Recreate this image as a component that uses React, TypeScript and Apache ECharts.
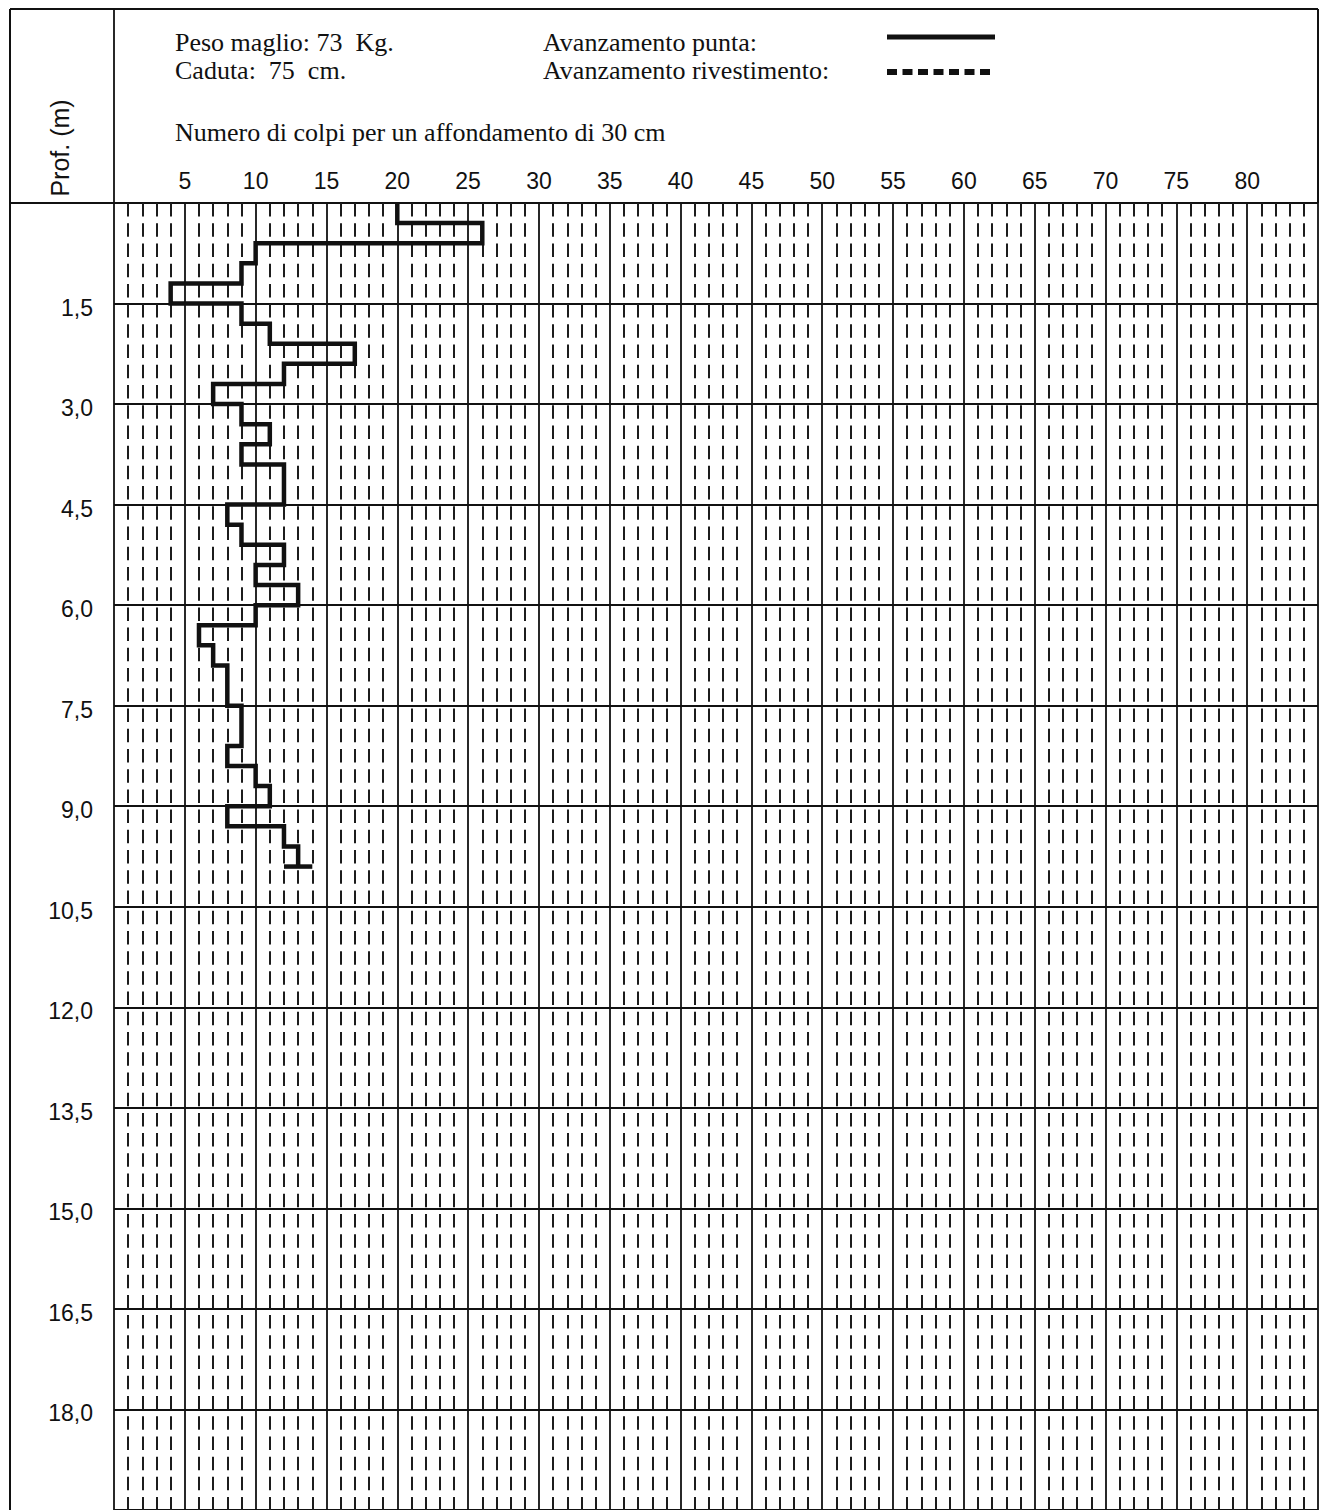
import React, { useEffect, useRef } from "react";
import * as echarts from "echarts";

// ---- Data ----
// Blow counts N per 30 cm penetration, one per 0.3 m depth interval
const DEPTH_TOP = [
  0.0, 0.3, 0.6, 0.9, 1.2, 1.5, 1.8, 2.1, 2.4, 2.7, 3.0, 3.3, 3.6, 3.9, 4.2, 4.5, 4.8,
  5.1, 5.4, 5.7, 6.0, 6.3, 6.6, 6.9, 7.2, 7.5, 7.8, 8.1, 8.4, 8.7, 9.0, 9.3, 9.6,
];
const BLOWS = [
  20, 26, 10, 9, 4, 9, 11, 17, 12, 7, 9, 11, 9, 12, 12, 8, 9, 12, 10, 13, 10, 6, 7, 8,
  8, 9, 9, 8, 10, 11, 8, 12, 13,
];
const STEP = 0.3;
// closing bar at the end of the test
const END_CAP_X = [12, 14];
const END_CAP_DEPTH = 9.9;

const X_LABELS = [5, 10, 15, 20, 25, 30, 35, 40, 45, 50, 55, 60, 65, 70, 75, 80];
const Y_LABELS = [1.5, 3.0, 4.5, 6.0, 7.5, 9.0, 10.5, 12.0, 13.5, 15.0, 16.5, 18.0];

const X_MIN = 0;
const X_MAX = 85;
const Y_MIN = 0;
const Y_MAX = 19.5;

// ---- Layout ----
const W = 1321;
const H = 1510;
const GRID_LEFT = 114;
const GRID_RIGHT_X = 1318;
const GRID_TOP = 203;
const PX_PER_M = 67.4;
const GRID_H = (Y_MAX - Y_MIN) * PX_PER_M;
const CELL = STEP * PX_PER_M;
const INK = "#111111";
const SERIF = "'Liberation Serif', 'Times New Roman', serif";
const SANS = "'Liberation Sans', Arial, sans-serif";
const HEAD_FONT = `26px ${SERIF}`;

export default function App() {
  const ref = useRef<HTMLDivElement>(null);

  useEffect(() => {
    if (!ref.current) return;
    const chart = echarts.init(ref.current, undefined, { renderer: "svg" });

    const stepData: number[][] = [];
    BLOWS.forEach((n, i) => {
      stepData.push([n, DEPTH_TOP[i]]);
      stepData.push([n, +(DEPTH_TOP[i] + STEP).toFixed(2)]);
    });
    const capData = END_CAP_X.map((x) => [x, END_CAP_DEPTH]);

    const solid = { color: INK, width: 1.8 };

    const graphic: any[] = [
      // outer frame & header box
      { type: "line", shape: { x1: 10, y1: 9, x2: GRID_RIGHT_X, y2: 9 }, style: { stroke: INK, lineWidth: 2 } },
      { type: "line", shape: { x1: 10, y1: 9, x2: 10, y2: H }, style: { stroke: INK, lineWidth: 2 } },
      { type: "line", shape: { x1: GRID_LEFT, y1: 9, x2: GRID_LEFT, y2: GRID_TOP }, style: { stroke: INK, lineWidth: 1.8 } },
      { type: "line", shape: { x1: GRID_RIGHT_X, y1: 9, x2: GRID_RIGHT_X, y2: GRID_TOP }, style: { stroke: INK, lineWidth: 2 } },
      { type: "line", shape: { x1: 10, y1: GRID_TOP, x2: GRID_RIGHT_X, y2: GRID_TOP }, style: { stroke: INK, lineWidth: 2 } },
      // header texts
      { type: "text", x: 175, y: 42, style: { text: "Peso maglio: 73  Kg.", font: HEAD_FONT, fill: INK, verticalAlign: "middle" } },
      { type: "text", x: 175, y: 70, style: { text: "Caduta:  75  cm.", font: HEAD_FONT, fill: INK, verticalAlign: "middle" } },
      { type: "text", x: 543, y: 42, style: { text: "Avanzamento punta:", font: HEAD_FONT, fill: INK, verticalAlign: "middle" } },
      { type: "text", x: 543, y: 70, style: { text: "Avanzamento rivestimento:", font: HEAD_FONT, fill: INK, verticalAlign: "middle" } },
      { type: "text", x: 175, y: 132, style: { text: "Numero di colpi per un affondamento di 30 cm", font: HEAD_FONT, fill: INK, verticalAlign: "middle" } },
      // legend samples
      { type: "line", shape: { x1: 887, y1: 37, x2: 995, y2: 37 }, style: { stroke: INK, lineWidth: 5 } },
      { type: "line", shape: { x1: 887, y1: 72, x2: 995, y2: 72 }, style: { stroke: INK, lineWidth: 6, lineDash: [10, 5.5] } },
      // vertical axis title
      {
        type: "text",
        x: 60,
        y: 148,
        rotation: Math.PI / 2,
        style: { text: "Prof. (m)", font: `25px ${SANS}`, fill: INK, align: "center", verticalAlign: "middle" },
      },
    ];

    chart.setOption({
      animation: false,
      backgroundColor: "#ffffff",
      graphic,
      grid: {
        left: GRID_LEFT,
        right: W - GRID_RIGHT_X,
        top: GRID_TOP,
        height: GRID_H,
        containLabel: false,
      },
      xAxis: {
        type: "value",
        position: "top",
        min: X_MIN,
        max: X_MAX,
        interval: 5,
        axisLine: { show: false },
        axisTick: { show: false },
        axisLabel: {
          show: true,
          margin: 11,
          color: INK,
          fontFamily: SANS,
          fontSize: 23,
          formatter: (v: number) => (X_LABELS.indexOf(v) >= 0 ? String(v) : ""),
        },
        splitLine: { show: true, lineStyle: solid },
        minorTick: { show: false, splitNumber: 5 },
        minorSplitLine: {
          show: true,
          lineStyle: { color: "#1c1c1c", width: 2, type: [13.5, CELL - 13.5] },
        },
      },
      yAxis: {
        type: "value",
        inverse: true,
        min: Y_MIN,
        max: Y_MAX,
        interval: 1.5,
        axisLine: { show: false },
        axisTick: { show: false },
        axisLabel: {
          show: true,
          margin: 21,
          color: INK,
          fontFamily: SANS,
          fontSize: 23,
          formatter: (v: number) => {
            const hit = Y_LABELS.find((l) => Math.abs(l - v) < 1e-6);
            return hit === undefined ? "" : "{v|" + hit.toFixed(1).replace(".", ",") + "}";
          },
          rich: {
            v: { fontFamily: SANS, fontSize: 23, color: INK, padding: [8, 0, 0, 0] },
          },
        },
        splitLine: { show: true, lineStyle: solid },
      },
      series: [
        {
          type: "line",
          name: "Avanzamento punta",
          data: stepData,
          symbol: "none",
          z: 10,
          lineStyle: { color: "#111", width: 4.5, join: "miter", cap: "butt" },
        },
        {
          type: "line",
          name: "Fine prova",
          data: capData,
          symbol: "none",
          z: 10,
          lineStyle: { color: "#111", width: 4.5, cap: "butt" },
        },
      ],
    });

    return () => chart.dispose();
  }, []);

  return (
    <div
      ref={ref}
      style={{ position: "absolute", left: 0, top: 0, width: W, height: H, background: "#fff" }}
    />
  );
}
